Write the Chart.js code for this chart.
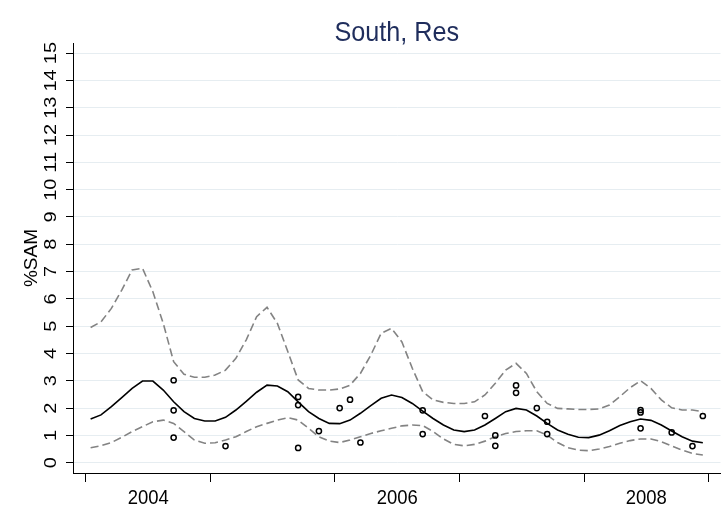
<!DOCTYPE html>
<html>
<head>
<meta charset="utf-8">
<title>South, Res</title>
<script src="https://cdn.jsdelivr.net/npm/chart.js@4.4.1/dist/chart.umd.min.js"></script>
<style>
  html, body { margin: 0; padding: 0; background: #ffffff; }
  #wrap { width: 726px; height: 511px; }
</style>
</head>
<body>
<div id="wrap"><canvas id="chart" width="726" height="511"></canvas></div>
<script>
// Monthly periods covered by the smoothed estimate
const months = [
  '2004-01','2004-02','2004-03','2004-04','2004-05','2004-06','2004-07','2004-08','2004-09','2004-10','2004-11','2004-12',
  '2005-01','2005-02','2005-03','2005-04','2005-05','2005-06','2005-07','2005-08','2005-09','2005-10','2005-11','2005-12',
  '2006-01','2006-02','2006-03','2006-04','2006-05','2006-06','2006-07','2006-08','2006-09','2006-10','2006-11','2006-12',
  '2007-01','2007-02','2007-03','2007-04','2007-05','2007-06','2007-07','2007-08','2007-09','2007-10','2007-11','2007-12',
  '2008-01','2008-02','2008-03','2008-04','2008-05','2008-06','2008-07','2008-08','2008-09','2008-10','2008-11','2008-12'
];

// Fitted seasonal curve (%SAM)
const fitted = [
  1.60, 1.75, 2.05, 2.38, 2.72, 2.99, 2.99, 2.66, 2.23, 1.87, 1.62, 1.53,
  1.53, 1.66, 1.93, 2.25, 2.58, 2.84, 2.81, 2.60, 2.23, 1.87, 1.62, 1.44,
  1.43, 1.56, 1.81, 2.09, 2.36, 2.48, 2.39, 2.17, 1.89, 1.62, 1.38, 1.20,
  1.14, 1.20, 1.38, 1.62, 1.87, 1.99, 1.93, 1.71, 1.44, 1.20, 1.04, 0.93,
  0.92, 1.01, 1.17, 1.36, 1.50, 1.60, 1.55, 1.38, 1.16, 0.95, 0.79, 0.73
];

// Upper confidence band
const upper = [
  4.95, 5.16, 5.65, 6.32, 7.06, 7.12, 6.26, 5.10, 3.70, 3.24, 3.13, 3.13,
  3.21, 3.39, 3.82, 4.50, 5.35, 5.69, 5.10, 4.07, 3.03, 2.72, 2.66, 2.66,
  2.70, 2.84, 3.27, 3.94, 4.74, 4.92, 4.42, 3.46, 2.60, 2.30, 2.21, 2.17,
  2.17, 2.23, 2.48, 2.91, 3.39, 3.64, 3.27, 2.60, 2.17, 1.99, 1.97, 1.95,
  1.95, 1.97, 2.11, 2.42, 2.75, 3.00, 2.72, 2.30, 2.01, 1.93, 1.93, 1.87
];

// Lower confidence band
const lower = [
  0.55, 0.62, 0.74, 0.93, 1.14, 1.32, 1.50, 1.56, 1.44, 1.14, 0.83, 0.71,
  0.73, 0.83, 0.95, 1.14, 1.32, 1.44, 1.56, 1.65, 1.56, 1.26, 0.95, 0.79,
  0.74, 0.83, 0.95, 1.07, 1.17, 1.26, 1.35, 1.38, 1.36, 1.14, 0.87, 0.67,
  0.62, 0.67, 0.79, 0.95, 1.07, 1.14, 1.17, 1.17, 1.01, 0.74, 0.55, 0.46,
  0.44, 0.50, 0.59, 0.71, 0.81, 0.87, 0.87, 0.77, 0.61, 0.46, 0.34, 0.28
];

// Survey observations
const obsMonths = [
  '2004-09','2004-09','2004-09','2005-02',
  '2005-09','2005-09','2005-09','2005-11','2006-01','2006-02','2006-03',
  '2006-09','2006-09','2007-03','2007-04','2007-04','2007-06','2007-06','2007-08','2007-09','2007-09',
  '2008-06','2008-06','2008-06','2008-09','2008-11','2008-12'
];
const obsValues = [
  3.02, 1.92, 0.92, 0.61,
  2.41, 2.11, 0.54, 1.16, 2.00, 2.31, 0.74,
  1.92, 1.05, 1.71, 1.00, 0.62, 2.83, 2.56, 2.00, 1.50, 1.05,
  1.93, 1.84, 1.26, 1.11, 0.61, 1.71
];

// Axis ticks
const yTicks = [0, 1, 2, 3, 4, 5, 6, 7, 8, 9, 10, 11, 12, 13, 14, 15];
const yearTicks = [2004, 2005, 2006, 2007, 2008, 2009];
const yearLabels = ['2004', '2006', '2008'];
const yearLabelDates = ['2004-07', '2006-07', '2008-07'];

// Mid-month position on a decimal-year axis
function monthPos(ym) {
  const [y, m] = ym.split('-').map(Number);
  return y + (m - 1 + 0.45) / 12;
}
// Start-of-month position
function monthStart(ym) {
  const [y, m] = ym.split('-').map(Number);
  return y + (m - 1) / 12;
}

const series = vals => vals.map((v, i) => ({ x: monthPos(months[i]), y: v }));

const FONT = '"Liberation Sans", Arial, Helvetica, sans-serif';
const TITLE = 'South, Res';

// Draws text horizontally compressed by sx, optionally rotated
function squeezedText(ctx, text, x, y, sx, rot) {
  ctx.save();
  ctx.translate(x, y);
  ctx.scale(sx, 1);
  if (rot) ctx.rotate(rot);
  ctx.fillText(text, 0, 0);
  ctx.restore();
}

// Title, year labels and rotated y tick labels
const textPlugin = {
  id: 'axisText',
  afterDraw(chart) {
    const ctx = chart.ctx;
    const xs = chart.scales.x, ys = chart.scales.y, area = chart.chartArea;
    ctx.save();
    ctx.textAlign = 'center';
    ctx.textBaseline = 'alphabetic';

    ctx.fillStyle = '#1f2d5c';
    ctx.font = '28px ' + FONT;
    squeezedText(ctx, TITLE, (area.left + area.right) / 2, 41, 0.9, 0);

    ctx.fillStyle = '#000';
    ctx.font = '21px ' + FONT;
    yearLabels.forEach((lab, i) => {
      squeezedText(ctx, lab, xs.getPixelForValue(monthStart(yearLabelDates[i])), xs.top + 31, 0.88, 0);
    });

    ctx.font = '20px ' + FONT;
    yTicks.forEach(v => {
      squeezedText(ctx, String(v), ys.right - 17.5, ys.getPixelForValue(v), 0.82, -Math.PI / 2);
    });
    ctx.restore();
  }
};

new Chart(document.getElementById('chart'), {
  type: 'line',
  data: {
    datasets: [
      {
        label: 'Observed',
        data: obsMonths.map((m, i) => ({ x: monthPos(m), y: obsValues[i] })),
        showLine: false,
        pointStyle: 'circle',
        pointRadius: 2.6,
        pointBorderWidth: 1.5,
        pointBorderColor: '#000',
        pointBackgroundColor: 'rgba(0,0,0,0)'
      },
      {
        label: 'Fitted',
        data: series(fitted),
        borderColor: '#000',
        borderWidth: 1.6,
        pointRadius: 0,
        tension: 0
      },
      {
        label: 'Upper',
        data: series(upper),
        borderColor: '#838383',
        borderWidth: 1.6,
        borderDash: [8, 4],
        pointRadius: 0,
        tension: 0
      },
      {
        label: 'Lower',
        data: series(lower),
        borderColor: '#838383',
        borderWidth: 1.6,
        borderDash: [8, 4],
        pointRadius: 0,
        tension: 0
      }
    ]
  },
  options: {
    responsive: false,
    animation: false,
    events: [],
    layout: { padding: { left: 0, right: 5, top: 43, bottom: 0 } },
    plugins: {
      legend: { display: false },
      tooltip: { enabled: false },
      title: { display: false }
    },
    scales: {
      x: {
        type: 'linear',
        min: 2003.896,
        max: 2009.096,
        afterBuildTicks: sc => { sc.ticks = yearTicks.map(v => ({ value: v })); },
        ticks: { display: false },
        grid: {
          drawOnChartArea: false,
          drawTicks: true,
          tickLength: 9,
          tickWidth: 1,
          tickColor: '#000'
        },
        border: { display: true, color: '#000', width: 1 },
        afterFit: sc => { sc.height = 38; }
      },
      y: {
        type: 'linear',
        min: -0.377,
        max: 15.37,
        afterBuildTicks: sc => { sc.ticks = yTicks.map(v => ({ value: v })); },
        ticks: { display: false },
        grid: {
          color: '#e6edf1',
          lineWidth: 1,
          drawTicks: true,
          tickLength: 7,
          tickWidth: 1,
          tickColor: '#000'
        },
        border: { display: true, color: '#000', width: 1 },
        title: {
          display: true,
          text: '%SAM',
          color: '#000',
          font: { family: FONT, size: 19 },
          padding: { top: 20, bottom: 0 }
        },
        afterFit: sc => { sc.width = 73; }
      }
    }
  },
  plugins: [textPlugin]
});
</script>
</body>
</html>
